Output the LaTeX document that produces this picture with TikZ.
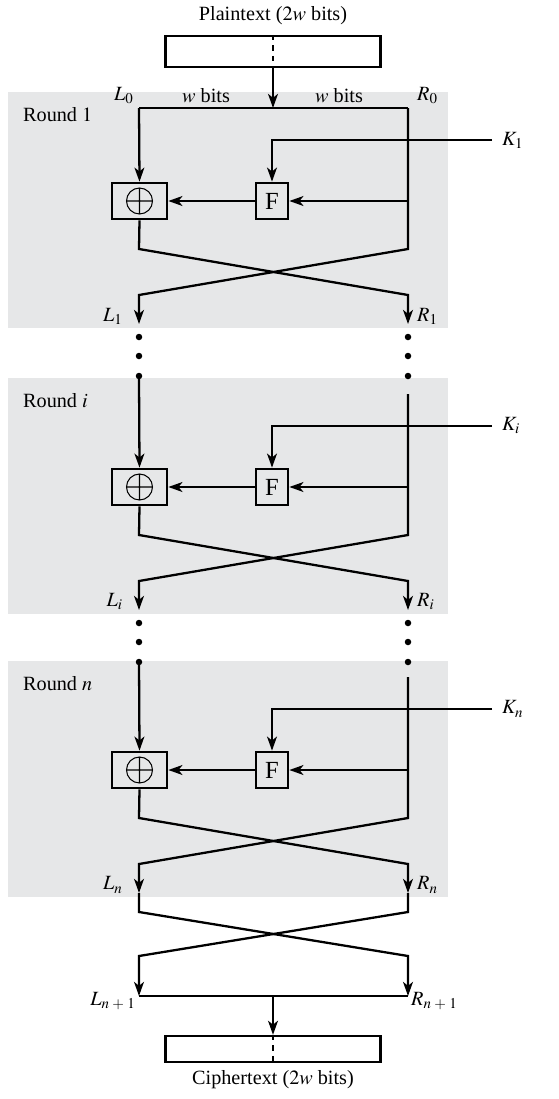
\documentclass[tikz,border=0pt]{standalone}
\usepackage{mathptmx}
\usepackage{fontspec}
\setmainfont{Liberation Serif}
\usepackage{xcolor}
\usepackage{tikz}
\usetikzlibrary{arrows.meta,positioning}
\definecolor{roundgray}{RGB}{230,231,232}

\begin{document}
\begin{tikzpicture}[x=0.02cm,y=-0.02cm,>={Stealth[length=8pt,width=5.6pt,inset=2.2pt]},
  every node/.style={font=\fontsize{11.5}{14}\selectfont},
  wire/.style={line width=1.3pt},
  textbox/.style={draw,line width=1.3pt,minimum width=4.3cm,inner sep=0pt},
  fbox/.style={draw,line width=1.5pt,minimum width=0.64cm,minimum height=0.72cm,inner sep=0pt,font=\fontsize{14}{16}\selectfont},
  xorbox/.style={draw,line width=1.5pt,minimum width=1.1cm,minimum height=0.72cm,inner sep=0pt},
  chaindot/.style={circle,fill,inner sep=0pt,minimum size=0.13cm}]
  \useasboundingbox (0,0) rectangle (558,1099);
  % the three rounds
  \foreach \b/\s/\lt in {201/1/93, 487/i/109, 770/n/109} {
    \fill[roundgray] (8,\b-109) rectangle (448,\b+127);
    \node[anchor=west] (round\s) at (17,\b-86) {Round $\s$};
    \node[xorbox] (xor\s) at (139.5,\b) {};
    \draw[line width=0.6pt] (xor\s.center) circle (0.26cm)
      +(-0.26cm,0) -- +(0.26cm,0) +(0,-0.26cm) -- +(0,0.26cm);
    \node[fbox] (F\s) at (272,\b) {F};
    \coordinate (kin\s) at (492,\b-61);
    \node[anchor=west] (K\s) at (496,\b-61) {$K_\s$};
    \coordinate (ltop\s) at (139,\b-\lt);
    \coordinate (rtop\s) at (408,\b-93);
    \coordinate (rmid\s) at (408,\b);
    \coordinate (xl\s) at (139,\b+48);
    \coordinate (xr\s) at (408,\b+48);
    \coordinate (yl\s) at (139,\b+94);
    \coordinate (yr\s) at (408,\b+94);
    \coordinate (tl\s) at (139,\b+123);
    \coordinate (tr\s) at (408,\b+123);
    \draw[wire,->] (kin\s) -| (F\s.north);
    \draw[wire,->] (ltop\s) -- (xor\s.north);
    \draw[wire,->] (rmid\s) -- (F\s.east);
    \draw[wire,->] (F\s.west) -- (xor\s.east);
    \draw[wire,->] (xor\s.south) -- (xl\s) -- (yr\s) -- (tr\s);
    \draw[wire,->] (rtop\s) -- (xr\s) -- (yl\s) -- (tl\s);
    \node[anchor=east] (Lout\s) at (129,\b+115) {$L_\s$};
    \node[anchor=west] (Rout\s) at (411,\b+115) {$R_\s$};
  }
  \foreach \b/\s in {201/1, 487/i}
    \foreach \d in {136,155,175} {
      \node[chaindot] (dotl\s\d) at (139,\b+\d) {};
      \node[chaindot] (dotr\s\d) at (408,\b+\d) {};
    }
  % input
  \node (ptext) at (273,16) {Plaintext ($2w$ bits)};
  \node[textbox,minimum height=0.62cm] (pbox) at (273,51.5) {};
  \draw[dashed,line width=0.6pt] (pbox.north) -- (pbox.south);
  \coordinate (split) at (273,108);
  \draw[wire,->] (pbox.south) -- (split);
  \draw[wire] (ltop1) -- (rtop1);
  \node[anchor=east] (L0) at (140,96) {$L_0$};
  \node[anchor=west] (R0) at (411,96) {$R_0$};
  \node (wl) at (206,96) {$w$ bits};
  \node (wr) at (339,96) {$w$ bits};
  % final swap and output
  \coordinate (cl) at (139,912);
  \coordinate (cr) at (408,912);
  \coordinate (dl) at (139,956);
  \coordinate (dr) at (408,956);
  \coordinate (Lend) at (139,996);
  \coordinate (Rend) at (408,996);
  \coordinate (join) at (273,996);
  \draw[wire,->] (tln) -- (cl) -- (dr) -- (Rend);
  \draw[wire,->] (trn) -- (cr) -- (dl) -- (Lend);
  \draw[wire] (Lend) -- (Rend);
  \node[anchor=east] (Lfin) at (142,1001) {$L_{n\;+\;1}$};
  \node[anchor=west] (Rfin) at (405,1001) {$R_{n\;+\;1}$};
  \node[textbox,minimum height=0.52cm] (cbox) at (273,1049) {};
  \draw[wire,->] (join) -- (cbox.north);
  \draw[dashed,line width=0.6pt] (cbox.north) -- (cbox.south);
  \node (ctext) at (273,1080) {Ciphertext ($2w$ bits)};
\end{tikzpicture}
\end{document}
